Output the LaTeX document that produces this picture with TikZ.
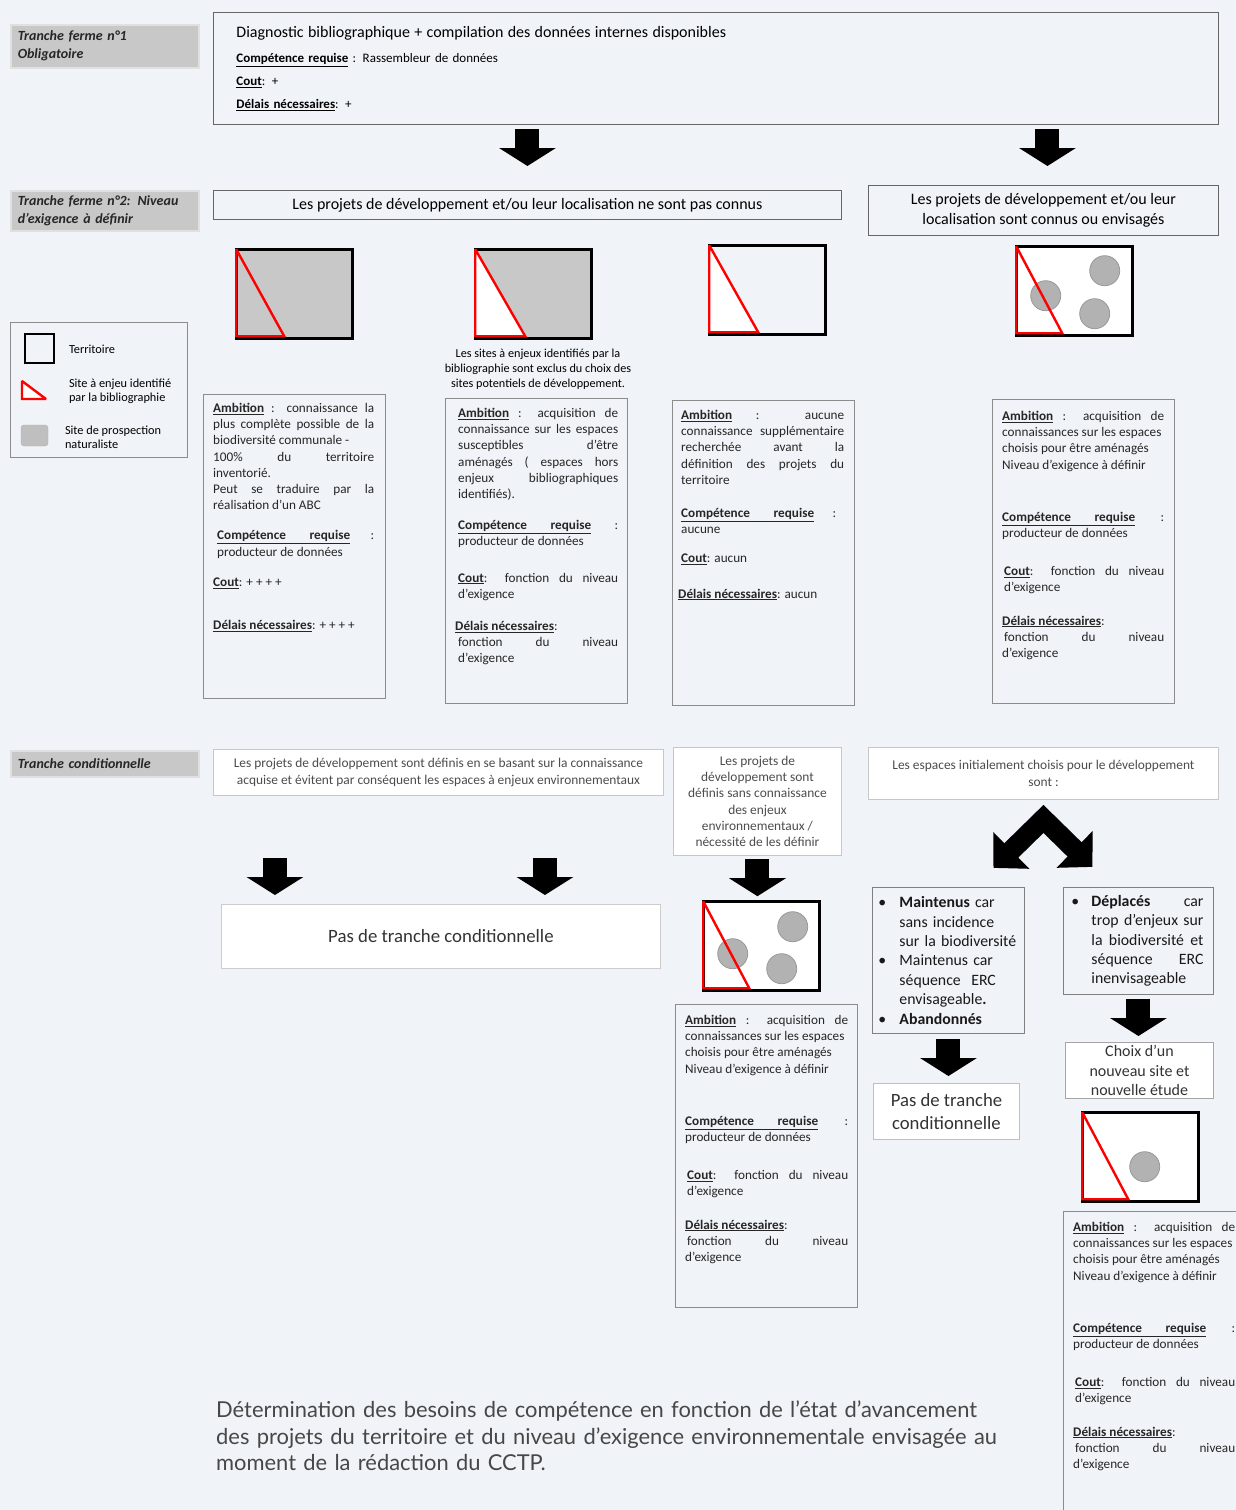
\documentclass[tikz,border=0pt]{standalone}
\usepackage{fontspec}
\setmainfont{Carlito}
\newfontfamily\legfont{Lato}
\usetikzlibrary{arrows.meta}
\definecolor{fond}{RGB}{240,243,247}
\definecolor{gris}{RGB}{200,200,200}
\setlength{\parindent}{0pt}
\newcommand\ulb[1]{\underline{\textbf{#1}}}
\newcommand\compreq{\underline{\makebox[133pt][s]{\textbf{Compétence requise}}}}
\newcommand\acqtexte{\ulb{Ambition} : acquisition de\linebreak
  connaissances sur les espaces\\
  choisis pour être aménagés\\
  Niveau d’exigence à définir\\[36pt]
  \compreq\ :\linebreak
  producteur de données\\[22pt]
  \hspace*{2pt}\ulb{Cout}: fonction du niveau\linebreak
  \hspace*{2pt}d’exigence\\[17pt]
  \ulb{Délais nécessaires}:\\
  \hspace*{2pt}fonction du niveau\linebreak
  d’exigence}

\begin{document}
\begin{tikzpicture}[x=1pt, y=-1pt,
  tranche/.style={anchor=north west, fill=gris, draw=black!12, line width=1.5pt, minimum width=188pt,
    text width=174pt, inner xsep=7pt, align=left, text=black!85,
    font=\fontsize{14}{18}\selectfont\bfseries\itshape},
  cadre/.style={anchor=north west, draw=black!60, line width=0.9pt},
  blanc/.style={anchor=north west, draw=black!22, fill=white, line width=0.9pt, text=black!70, align=center},
  info/.style={anchor=north west, draw=black!45, line width=1pt, minimum width=182pt, inner sep=0},
  infotxt/.style={anchor=north west, inner sep=0, text width=#1, align=justify, text=black!85,
    font=\fontsize{13.2}{16.2}\selectfont},
  terr/.style={draw=black, line width=2.6pt, minimum width=116pt, minimum height=89pt, inner sep=0},
  enjeu/.style={draw=red, line width=2.4pt, line join=miter, miter limit=2},
  site/.style={fill=black!30, draw=black!40, line width=0.8pt},
  fleche/.style={line width=24pt, -{Triangle[width=56pt, length=18pt]}},
  chevron/.style={line width=20pt, line join=miter,
    {Triangle[width=50pt, length=25pt]}-{Triangle[width=50pt, length=25pt]}}
]
\useasboundingbox (0,0) rectangle (1236,1510);
\clip (0,0) rectangle (1236,1510);
\fill[fond] (0,0) rectangle (1236,1510);

% tranches
\node[tranche, minimum height=43pt] (t1) at (10,24) {Tranche ferme n°1\\Obligatoire};
\node[tranche, minimum height=40pt] (t2) at (10,190) {Tranche ferme n°2: Niveau\\d’exigence à définir};
\node[tranche, minimum height=26pt] (t3) at (10,750) {Tranche conditionnelle};

% tranche ferme 1
\node[cadre, minimum width=1005pt, minimum height=112pt, text width=959pt, inner xsep=23pt, align=left,
  font=\fontsize{13}{23}\selectfont] (diag) at (213,12)
  {{\fontsize{16}{18}\selectfont Diagnostic bibliographique + compilation des données internes disponibles}\\[2pt]
   \ulb{Compétence requise} : Rassembleur de données\\
   \ulb{Cout}: +\\
   \ulb{Délais nécessaires}: +};

% tranche ferme 2
\node[cadre, minimum width=628pt, minimum height=29pt, font=\fontsize{16}{18}\selectfont] (inconnus) at (213,190)
  {Les projets de développement et/ou leur localisation ne sont pas connus};
\node[cadre, minimum width=350pt, minimum height=50pt, align=center, font=\fontsize{16}{20}\selectfont] (connus) at (868,185)
  {Les projets de développement et/ou leur\\localisation sont connus ou envisagés};

\draw[fleche] ([yshift=-4pt]diag.south -| inconnus.north) -- ([yshift=24pt]inconnus.north);
\draw[fleche] ([xshift=4pt,yshift=-4pt]diag.south -| connus.north) -- ([xshift=4pt,yshift=19pt]connus.north);

% legende
\node[cadre, draw=black!45, minimum width=177pt, minimum height=135pt] (cle) at (10,322) {};
\node[draw, line width=2.6pt, minimum size=29pt, inner sep=0] (cleterr) at (39.5,348.5) {};
\node[anchor=west, font=\fontsize{12.3}{14}\selectfont] (cleterrtxt) at (65.5,349) {Territoire};
\draw[enjeu, fill=white] (22,381) -- (22,399) -- (46,399) -- cycle;
\node[anchor=west, align=left, font=\fontsize{12.3}{14}\selectfont] (cleenjeu) at (65.5,391)
  {Site à enjeu identifié\\par la bibliographie};
\draw[rounded corners=3pt, fill=black!25, draw=black!30] (21,425) rectangle (48,446);
\node[anchor=west, align=left, font=\fontsize{12.3}{14}\selectfont] (clesite) at (61.5,437)
  {Site de prospection\\naturaliste};

% territoires
\node[terr, fill=gris] (p1) at (294.5,294) {};
\begin{scope}[shift={(p1.north west)}]
  \draw[enjeu] (1,1) -- (1,88) -- (49,88) -- cycle;
\end{scope}
\node[terr, fill=gris] (p2) at (533.5,294) {};
\begin{scope}[shift={(p2.north west)}]
  \draw[enjeu, fill=white] (1,1) -- (1,88) -- (51,88) -- cycle;
\end{scope}
\node[font=\fontsize{12.2}{15}\selectfont, align=center] (p2txt) at (538,369)
  {Les sites à enjeux identifiés par la\\bibliographie sont exclus du  choix des\\sites potentiels de développement.};
\node[terr, fill=fond] (p3) at (767.5,290) {};
\begin{scope}[shift={(p3.north west)}]
  \draw[enjeu, fill=white] (1,1) -- (1,88) -- (50,88) -- cycle;
\end{scope}
\node[terr, fill=white] (p4) at (1074.5,291) {};
\begin{scope}[shift={(p4.north west)}]
  \draw[site] (89.5,25.5) circle (15);
  \draw[site] (30.5,50.5) circle (15);
  \draw[site] (79.5,68.5) circle (15);
  \draw[enjeu] (1,1) -- (1,88) -- (47,88) -- cycle;
\end{scope}

% fiches tranche ferme 2
\node[info, minimum height=304pt] (b1) at (203,394) {};
\node[infotxt=161pt] (b1t) at (213,403) {\ulb{Ambition} : connaissance la\linebreak
  plus complète possible de la\linebreak
  biodiversité communale -\\
  100\% du territoire\linebreak
  inventorié.\\
  Peut se traduire par la\linebreak
  réalisation d’un ABC\\[14pt]
  \hspace*{4pt}\compreq\ :\linebreak
  \hspace*{4pt}producteur de données\\[14pt]
  \ulb{Cout}: + + + +\\[27pt]
  \ulb{Délais nécessaires}: + + + +};

\node[info, minimum height=305pt] (b2) at (445,398) {};
\node[infotxt=160pt] (b2t) at (458,408) {\ulb{Ambition} : acquisition de\linebreak
  connaissance sur les espaces\linebreak
  susceptibles d’être\linebreak
  aménagés ( espaces hors\linebreak
  enjeux bibliographiques\linebreak
  identifiés).\\[15pt]
  \compreq\ :\linebreak
  producteur de données\\[20pt]
  \ulb{Cout}: fonction du niveau\linebreak
  d’exigence\\[16pt]
  \hspace*{-3pt}\ulb{Délais nécessaires}:\\
  fonction du niveau\linebreak
  d’exigence};

\node[info, minimum height=305pt] (b3) at (672,400) {};
\node[infotxt=163pt] (b3t) at (681,410) {\ulb{Ambition} : aucune\linebreak
  connaissance supplémentaire\linebreak
  recherchée avant la\linebreak
  définition des projets du\linebreak
  territoire\\[17pt]
  \compreq\ :\hspace*{8pt}\linebreak
  aucune\\[13pt]
  \ulb{Cout}: aucun\\[19pt]
  \hspace*{-3pt}\ulb{Délais nécessaires}: aucun};

\node[info, minimum height=304pt] (b4) at (992,399) {};
\node[infotxt=162pt] (b4t) at (1002,411) {\acqtexte};

% tranche conditionnelle
\node[blanc, minimum width=450pt, minimum height=46pt, font=\fontsize{13.4}{17}\selectfont] (c1) at (213,749)
  {Les projets de développement sont définis en se basant sur la connaissance\\
   acquise et évitent par conséquent les espaces à enjeux environnementaux};
\node[blanc, minimum width=168pt, minimum height=108pt, font=\fontsize{13.4}{16.3}\selectfont] (c2) at (673,747)
  {Les projets de\\développement sont\\définis sans connaissance\\des enjeux\\environnementaux /\\nécessité de les définir};
\node[blanc, minimum width=350pt, minimum height=52pt, font=\fontsize{13.4}{16.3}\selectfont] (c3) at (868,747)
  {Les espaces initialement choisis pour le développement\\sont :};

\node[blanc, draw=black!20, minimum width=439pt, minimum height=64pt, text=black!80,
  font=\fontsize{18.8}{22}\selectfont] (pas1) at (221,904) {Pas de tranche conditionnelle};
\path ([xshift=-166pt]pas1.north) coordinate (x1) ([xshift=104pt]pas1.north) coordinate (x2);
\draw[fleche] ([yshift=-62pt]c1.south -| x1) -- ([yshift=9pt]x1);
\draw[fleche] ([yshift=-62pt]c1.south -| x2) -- ([yshift=9pt]x2);

\node[terr, fill=white] (p5) at (761.5,946) {};
\begin{scope}[shift={(p5.north west)}]
  \draw[site] (90.5,26.5) circle (15);
  \draw[site] (30.5,53.5) circle (15);
  \draw[site] (79.5,68.5) circle (15);
  \draw[enjeu] (1,1) -- (1,88) -- (47,88) -- cycle;
\end{scope}
\draw[fleche] ([yshift=-3pt]c2.south) -- ([yshift=4pt]c2.south |- p5.north);

\node[info, minimum height=303pt] (b5) at (675,1004) {};
\node[infotxt=163pt] (b5t) at (685,1015) {\acqtexte};

% espaces choisis
\coordinate (sommet) at ([yshift=-19pt]c3.south);
\coordinate (chevg) at ([xshift=-50pt,yshift=-49pt]sommet);
\coordinate (chevd) at ([xshift=49pt,yshift=-48pt]sommet);
\draw[chevron] (chevg) -- (sommet) -- (chevd);

\node[cadre, draw=black!50, minimum width=152pt, minimum height=146pt, text width=140pt, inner xsep=6pt,
  inner ysep=2pt, align=left, text=black!90, font=\fontsize{15.8}{19.4}\selectfont] (m1) at (872,887)
  {\makebox[21pt][l]{\textbullet}\textbf{Maintenus} car\\
   \hspace*{21pt}sans incidence\\
   \hspace*{21pt}sur la biodiversité\\
   \makebox[21pt][l]{\textbullet}Maintenus car\\
   \hspace*{21pt}séquence\ \ ERC\\
   \hspace*{21pt}envisageable\textbf{.}\\
   \makebox[21pt][l]{\textbullet}\textbf{Abandonnés}};
\node[cadre, draw=black!50, minimum width=150pt, minimum height=107pt, text width=134pt, inner xsep=8pt,
  inner ysep=2pt, align=justify, text=black!90, font=\fontsize{15.8}{19.4}\selectfont] (m2) at (1063,887)
  {\makebox[20pt][l]{\textbullet}\parbox[t]{112pt}{\textbf{Déplacés} car\linebreak
   trop d’enjeux sur\linebreak la biodiversité et\linebreak séquence ERC\linebreak inenvisageable}};

\node[blanc, draw=black!25, minimum width=146pt, minimum height=56pt, inner ysep=1pt, text=black!80,
  font=\fontsize{18.7}{23}\selectfont] (pas2) at (873,1083) {Pas de tranche\\conditionnelle};
\node[blanc, draw=black!35, minimum width=148pt, minimum height=56pt, inner ysep=0pt, text=black!80,
  font=\fontsize{16}{19.5}\selectfont] (choix) at (1065,1042) {Choix d’un\\nouveau site et\\nouvelle étude};
\draw[fleche] ([yshift=-5pt]m1.south) -- ([yshift=7pt]m1.south |- pas2.north);
\draw[fleche] ([yshift=-4pt]m2.south) -- ([yshift=6pt]m2.south |- choix.north);

\node[terr, fill=white] (p6) at (1140.5,1157) {};
\begin{scope}[shift={(p6.north west)}]
  \draw[site] (63.5,55.5) circle (15);
  \draw[enjeu] (1,1) -- (1,88) -- (47,88) -- cycle;
\end{scope}

\node[info, minimum width=185pt, minimum height=310pt] (b6) at (1063,1211) {};
\node[infotxt=162pt] (b6t) at (1073,1222) {\acqtexte};

% titre
\node[anchor=north west, inner sep=0, text width=830pt, align=left, text=black!72,
  font=\legfont\fontsize{21.9}{26.5}\selectfont] (titre) at (216,1401)
  {Détermination des besoins de compétence en fonction de l’état d’avancement\\
   des projets du territoire et du niveau d’exigence environnementale envisagée au\\
   moment de la rédaction du CCTP.};
\end{tikzpicture}
\end{document}
